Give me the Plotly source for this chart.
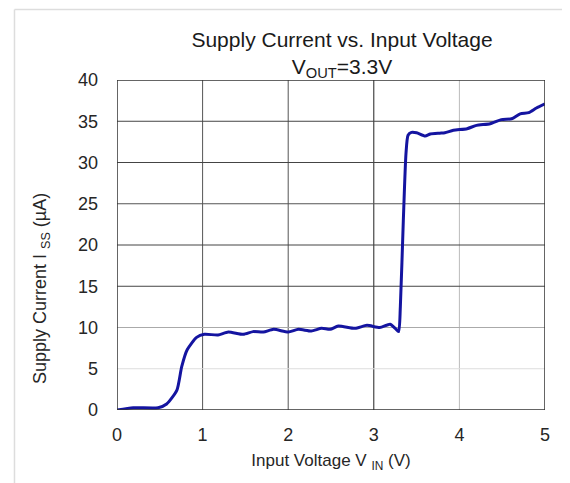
import plotly.graph_objects as go

# Data
vin = [0.0, 0.19, 0.48, 0.58, 0.70, 0.756, 0.82, 0.93, 1.02, 1.18, 1.30, 1.475, 1.59, 1.71,
       1.83, 2.0, 2.12, 2.27, 2.39, 2.49, 2.585, 2.78, 2.92, 3.07, 3.19, 3.25, 3.29, 3.31,
       3.345, 3.376, 3.40, 3.44, 3.50, 3.60, 3.66, 3.77, 3.83, 3.93, 4.09, 4.20, 4.36,
       4.49, 4.61, 4.71, 4.81, 4.90, 5.0]
iss = [0.0, 0.28, 0.28, 0.73, 2.4, 5.25, 7.3, 8.8, 9.17, 9.1, 9.45, 9.17, 9.5, 9.45,
       9.78, 9.45, 9.78, 9.58, 9.9, 9.78, 10.18, 9.9, 10.26, 10.0, 10.4, 9.9, 9.5, 12.5,
       23.0, 31.1, 33.3, 33.65, 33.6, 33.2, 33.45, 33.55, 33.6, 33.9, 34.1, 34.5, 34.7,
       35.2, 35.3, 35.9, 36.05, 36.6, 37.1]

x_ticks = [0, 1, 2, 3, 4, 5]
y_ticks = [0, 5, 10, 15, 20, 25, 30, 35, 40]

# grid line colours (as they appear in the reference)
x_grid_colors = {1: "#555555", 2: "#555555", 3: "#222222", 4: "#bbbbbb"}
y_grid_colors = {5: "#dddddd", 10: "#aaaaaa", 15: "#444444", 20: "#444444",
                 25: "#555555", 30: "#444444", 35: "#444444"}

fig = go.Figure()
fig.add_trace(go.Scatter(x=vin, y=iss, mode="lines",
                         line=dict(color="#1414a0", width=3, shape="spline", smoothing=0.6),
                         showlegend=False, hoverinfo="skip"))

shapes = []
for xv, c in x_grid_colors.items():
    shapes.append(dict(type="line", xref="x", yref="y", x0=xv, x1=xv, y0=0, y1=40,
                       line=dict(color=c, width=1), layer="below"))
for yv, c in y_grid_colors.items():
    shapes.append(dict(type="line", xref="x", yref="y", x0=0, x1=5, y0=yv, y1=yv,
                       line=dict(color=c, width=1), layer="below"))
# plot frame
shapes.append(dict(type="rect", xref="x", yref="y", x0=0, x1=5, y0=0, y1=40,
                   line=dict(color="#333333", width=1.5), layer="above"))
# light outer frame (top and left edges of the screenshot)
shapes.append(dict(type="line", xref="paper", yref="paper", x0=-0.2395, x1=1.2, y0=1.2136, y1=1.2136,
                   line=dict(color="#dddddd", width=1.5)))
shapes.append(dict(type="line", xref="paper", yref="paper", x0=-0.2395, x1=-0.2395, y0=-0.3, y1=1.2136,
                   line=dict(color="#dddddd", width=1.5)))

font_family = "Liberation Sans, Arial, sans-serif"
text_color = "#262626"

fig.update_layout(
    width=570, height=483,
    margin=dict(l=109, r=33, t=72, b=81),
    paper_bgcolor="white", plot_bgcolor="white",
    font=dict(family=font_family, color=text_color),
    title=dict(text="Supply Current vs. Input Voltage<br>V<sub>OUT</sub>=3.3V",
               x=0.586, xanchor="center", y=0.920, yanchor="middle",
               font=dict(size=21, color="#1a1a1a")),
    xaxis=dict(range=[0, 5], tickvals=x_ticks, showgrid=False, zeroline=False,
               showline=False, ticks="", ticklabelstandoff=12,
               tickfont=dict(size=18, color=text_color),
               title=dict(text="Input Voltage V <sub>IN</sub> (V)", standoff=10,
                          font=dict(size=17, color=text_color))),
    yaxis=dict(range=[0, 40], tickvals=y_ticks, showgrid=False, zeroline=False,
               showline=False, ticks="", ticklabelstandoff=18,
               tickfont=dict(size=18, color=text_color)),
    annotations=[dict(text="Supply Current I <sub>SS</sub> (µA)", textangle=-90,
                      xref="paper", yref="paper", x=-0.1752, y=0.3667,
                      xanchor="center", yanchor="middle", showarrow=False,
                      font=dict(size=18, color=text_color))],
    shapes=shapes,
)

fig.write_html("out.html")
